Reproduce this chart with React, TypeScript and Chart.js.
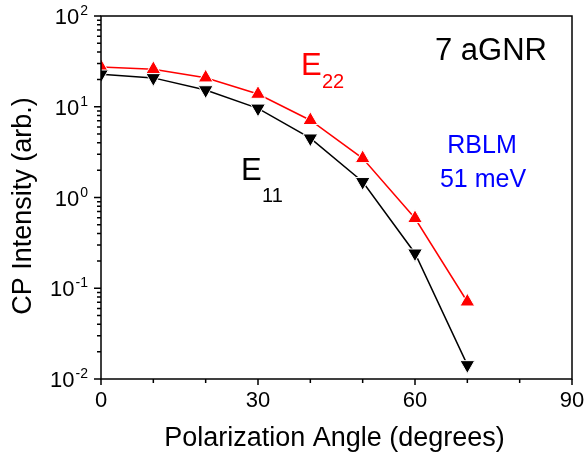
import React, { useEffect, useRef } from "react";
import { Chart, registerables } from "chart.js";

Chart.register(...registerables);

const angles = [0, 10, 20, 30, 40, 50, 60, 70];
const e22Values = [27.4, 25.9, 20.9, 13.8, 7.1, 2.7, 0.59, 0.071];
const e11Values = [22.8, 20.8, 15.3, 9.6, 4.5, 1.49, 0.243, 0.0143];
const xMajorTicks = [0, 30, 60, 90];
const xMinorTicks = [10, 20, 40, 50, 70, 80];
const yExponents = [-2, -1, 0, 1, 2];

const FONT = "'Liberation Sans', Arial, Helvetica, sans-serif";

const decorPlugin = {
  id: "decor",
  afterDraw(chart: any) {
    const ctx = chart.ctx as CanvasRenderingContext2D;
    const xs = chart.scales.x;
    const ys = chart.scales.y;
    const a = chart.chartArea;
    ctx.save();
    // frame
    ctx.strokeStyle = "#000";
    ctx.lineWidth = 1.5;
    ctx.strokeRect(a.left, a.top, a.right - a.left, a.bottom - a.top);
    // x ticks
    ctx.lineWidth = 1.5;
    ctx.beginPath();
    for (const v of xMajorTicks) {
      const px = xs.getPixelForValue(v);
      ctx.moveTo(px, a.bottom);
      ctx.lineTo(px, a.bottom + 6);
    }
    for (const v of xMinorTicks) {
      const px = xs.getPixelForValue(v);
      ctx.moveTo(px, a.bottom);
      ctx.lineTo(px, a.bottom + 4);
    }
    // y ticks
    for (const e of yExponents) {
      const py = ys.getPixelForValue(Math.pow(10, e));
      ctx.moveTo(a.left, py);
      ctx.lineTo(a.left - 7, py);
      if (e < 2) {
        for (let m = 2; m <= 9; m++) {
          const pm = ys.getPixelForValue(m * Math.pow(10, e));
          ctx.moveTo(a.left, pm);
          ctx.lineTo(a.left - 4, pm);
        }
      }
    }
    ctx.stroke();
    // x tick labels
    ctx.fillStyle = "#000";
    ctx.font = `22px ${FONT}`;
    ctx.textAlign = "center";
    ctx.textBaseline = "alphabetic";
    for (const v of xMajorTicks) {
      ctx.fillText(String(v), xs.getPixelForValue(v), a.bottom + 28);
    }
    // y tick labels
    for (const e of yExponents) {
      const py = ys.getPixelForValue(Math.pow(10, e));
      const expStr = e < 0 ? "-" + String(-e) : String(e);
      ctx.font = `14px ${FONT}`;
      ctx.textAlign = "right";
      const right = a.left - 13;
      ctx.fillText(expStr, right, py - 1);
      const ew = ctx.measureText(expStr).width;
      ctx.font = `22px ${FONT}`;
      ctx.fillText("10", right - ew - 1, py + 8);
    }
    // axis titles
    ctx.font = `27px ${FONT}`;
    ctx.textAlign = "center";
    ctx.fillText("Polarization Angle (degrees)", (a.left + a.right) / 2 - 2, 446);
    ctx.save();
    ctx.translate(31, 206);
    ctx.rotate(-Math.PI / 2);
    ctx.fillText("CP Intensity (arb.)", 0, 0);
    ctx.restore();
    // annotations
    ctx.textAlign = "left";
    ctx.font = `31px ${FONT}`;
    ctx.fillStyle = "#000";
    ctx.fillText("7 aGNR", 435, 60);
    // E22
    ctx.fillStyle = "#ff0000";
    ctx.font = `31px ${FONT}`;
    ctx.fillText("E", 301, 75);
    ctx.font = `20px ${FONT}`;
    ctx.fillText("22", 322, 88);
    // E11
    ctx.fillStyle = "#000";
    ctx.font = `31px ${FONT}`;
    ctx.fillText("E", 241, 180);
    ctx.font = `20px ${FONT}`;
    ctx.fillText("11", 262, 202);
    // RBLM
    ctx.fillStyle = "#0000ff";
    ctx.font = `25px ${FONT}`;
    ctx.textAlign = "center";
    ctx.fillText("RBLM", 482, 153);
    ctx.fillText("51 meV", 483, 187);
    ctx.restore();
  },
};

export default function App() {
  const ref = useRef<HTMLCanvasElement | null>(null);
  useEffect(() => {
    document.body.style.margin = "0";
    const canvas = ref.current!;
    const chart = new Chart(canvas, {
      type: "line",
      data: {
        labels: angles,
        datasets: [
          {
            label: "E11",
            data: angles.map((x, i) => ({ x, y: e11Values[i] })),
            borderColor: "#000000",
            backgroundColor: "#000000",
            borderWidth: 1.5,
            pointStyle: "triangle",
            rotation: 180,
            pointRadius: 8.5,
            pointBorderColor: "#ffffff",
            pointBorderWidth: 1,
            pointBackgroundColor: "#000000",
            tension: 0,
          },
          {
            label: "E22",
            data: angles.map((x, i) => ({ x, y: e22Values[i] })),
            borderColor: "#ff0000",
            backgroundColor: "#ff0000",
            borderWidth: 1.5,
            pointStyle: "triangle",
            pointRadius: 8.5,
            pointBorderColor: "#ffffff",
            pointBorderWidth: 1,
            pointBackgroundColor: "#ff0000",
            tension: 0,
          },
        ],
      },
      options: {
        animation: false,
        responsive: false,
        devicePixelRatio: 1,
        layout: { padding: { left: 101, top: 16, right: 15, bottom: 79 } },
        plugins: {
          legend: { display: false },
          tooltip: { enabled: false },
        },
        scales: {
          x: { type: "linear", min: 0, max: 90, display: false },
          y: { type: "logarithmic", min: 0.01, max: 100, display: false },
        },
      },
      plugins: [decorPlugin],
    });
    return () => chart.destroy();
  }, []);
  return (
    <div style={{ position: "absolute", left: 0, top: 0, width: 587, height: 458 }}>
      <canvas ref={ref} width={587} height={458} style={{ width: 587, height: 458 }} />
    </div>
  );
}
